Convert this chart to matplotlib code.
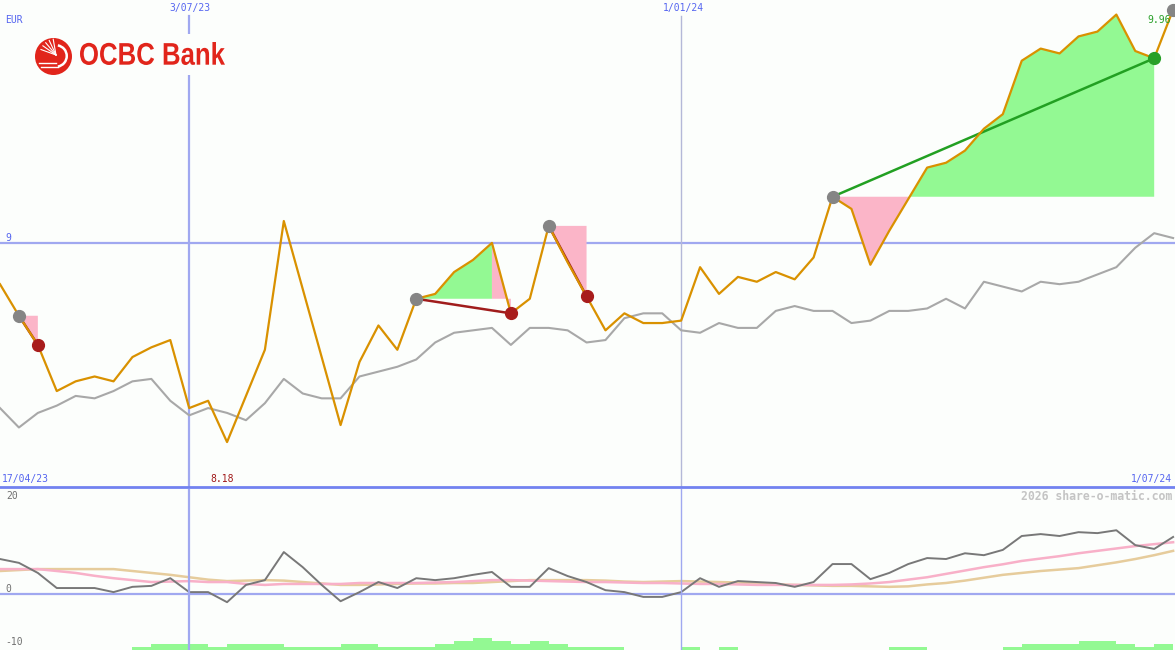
import numpy as np
import matplotlib.pyplot as plt
from matplotlib.patches import Circle, Rectangle, Wedge, PathPatch
from matplotlib.lines import Line2D
from matplotlib.textpath import TextPath
from matplotlib.font_manager import FontProperties
from matplotlib.transforms import Affine2D

# weekly closes in EUR, first week 24/04/23, last week 1/07/24
close = [8.83, 8.70, 8.58, 8.39, 8.43, 8.45, 8.43, 8.53, 8.57, 8.60,
         8.32, 8.35, 8.18, 8.37, 8.56, 9.09, 8.81, 8.53, 8.25, 8.51,
         8.66, 8.56, 8.77, 8.79, 8.88, 8.93, 9.00, 8.71, 8.77, 9.07,
         8.92, 8.78, 8.64, 8.71, 8.67, 8.67, 8.68, 8.90, 8.79, 8.86,
         8.84, 8.88, 8.85, 8.94, 9.19, 9.14, 8.91, 9.05, 9.18, 9.31,
         9.33, 9.38, 9.47, 9.53, 9.75, 9.80, 9.78, 9.85, 9.87, 9.94,
         9.79, 9.76, 9.96]
# grey line (average)
avg = [8.32, 8.24, 8.30, 8.33, 8.37, 8.36, 8.39, 8.43, 8.44, 8.35,
       8.29, 8.32, 8.30, 8.27, 8.34, 8.44, 8.38, 8.36, 8.36, 8.45,
       8.47, 8.49, 8.52, 8.59, 8.63, 8.64, 8.65, 8.58, 8.65, 8.65,
       8.64, 8.59, 8.60, 8.69, 8.71, 8.71, 8.64, 8.63, 8.67, 8.65,
       8.65, 8.72, 8.74, 8.72, 8.72, 8.67, 8.68, 8.72, 8.72, 8.73,
       8.77, 8.73, 8.84, 8.82, 8.80, 8.84, 8.83, 8.84, 8.87, 8.90,
       8.98, 9.04, 9.02]
# lower panel
osc = [7.3, 6.5, 4.4, 1.25, 1.25, 1.25, 0.4, 1.5, 1.7, 3.3,
       0.4, 0.4, -1.7, 1.9, 2.9, 8.75, 5.6, 1.9, -1.5, 0.4,
       2.5, 1.25, 3.3, 2.9, 3.3, 4.0, 4.6, 1.5, 1.5, 5.4,
       3.75, 2.5, 0.8, 0.4, -0.6, -0.6, 0.4, 3.3, 1.5, 2.7,
       2.5, 2.3, 1.5, 2.5, 6.25, 6.25, 3.1, 4.4, 6.25, 7.5,
       7.3, 8.5, 8.1, 9.2, 12.1, 12.5, 12.1, 12.9, 12.7, 13.3,
       10.2, 9.4, 11.9]
osc_fast = [5.2, 5.2, 5.2, 4.8, 4.4, 3.8, 3.3, 2.9, 2.5, 2.6,
            2.7, 2.5, 2.5, 2.1, 1.9, 2.1, 2.1, 2.1, 2.1, 2.3,
            2.3, 2.3, 2.3, 2.4, 2.5, 2.7, 2.9, 2.9, 2.8, 2.7,
            2.6, 2.5, 2.5, 2.4, 2.3, 2.3, 2.2, 2.1, 2.1, 2.0,
            1.9, 1.9, 1.9, 1.9, 1.9, 2.0, 2.2, 2.5, 3.0, 3.5,
            4.2, 4.9, 5.6, 6.2, 6.9, 7.4, 7.9, 8.5, 9.0, 9.5,
            10.0, 10.4, 10.8]
osc_slow = [4.8, 5.0, 5.2, 5.2, 5.2, 5.2, 5.2, 4.8, 4.4, 4.0,
            3.5, 3.0, 2.7, 2.8, 2.9, 2.8, 2.5, 2.2, 1.9, 1.9,
            2.0, 2.1, 2.2, 2.2, 2.3, 2.3, 2.5, 2.7, 2.9, 2.9,
            2.9, 2.9, 2.8, 2.6, 2.5, 2.6, 2.7, 2.6, 2.5, 2.4,
            2.2, 2.0, 1.9, 1.8, 1.7, 1.7, 1.6, 1.5, 1.6, 2.0,
            2.3, 2.8, 3.4, 4.0, 4.4, 4.8, 5.1, 5.4, 6.0, 6.6,
            7.3, 8.1, 9.0]
hist = [0, 0, 0, 0, 0, 0, 0, 1, 2, 2, 2, 1, 2, 2, 2, 1, 1, 1, 2, 2,
        1, 1, 1, 2, 3, 4, 3, 2, 3, 2, 1, 1, 1, 0, 0, 0, 1, 0, 1, 0,
        0, 0, 0, 0, 0, 0, 0, 1, 1, 0, 0, 0, 0, 1, 2, 2, 2, 3, 3, 2,
        1, 2, 0]
hist_unit = 0.625

# (buy week, sell week)
trades = [(1, 2), (22, 27), (29, 31), (44, 61)]
open_buy = 62
date_marks = [(10, "3/07/23"), (36, "1/01/24")]

x = np.arange(len(close))

BLUE = "#5565f0"
GRID = "#a0a8f0"
ORANGE = "#d99100"
GREEN_FILL = "#93f993"
PINK_FILL = "#fbb5c8"
BG = "#fcfefc"

fig = plt.figure(figsize=(11.75, 6.5), dpi=100, facecolor=BG)
H = 650.0
ax1 = fig.add_axes([0, 1 - 487 / H, 1, 487 / H])
ax2 = fig.add_axes([0, 0, 1, 161 / H])
for a in (ax1, ax2):
    a.set_facecolor(BG)
    a.set_xlim(0, 62.1)
    a.set_xticks([])
    a.set_yticks([])
    for s in a.spines.values():
        s.set_visible(False)

# ---- price panel
ax1.set_ylim(7.995, 10.0)
ax1.axhline(9, color=GRID, lw=1.6, zorder=1)
ax1.axvline(date_marks[0][0], ymax=1 - 16 / 487, color=GRID, lw=1.6, zorder=1)
ax1.axvline(date_marks[1][0], ymax=1 - 16 / 487, color="#b4b8d8", lw=1, zorder=1)

ax1.plot(x, avg, color="#a8a8a8", lw=1.5, zorder=3)

for b, s in trades:
    entry = close[b]
    # group consecutive weeks with the same colour into one polygon
    runs = []
    for i in range(b, s):
        up = close[i + 1] > entry
        if runs and runs[-1][0] == up:
            runs[-1][2] = i + 1
        else:
            runs.append([up, i, i + 1])
    for up, i0, i1 in runs:
        xs = [i0] + list(range(i0, i1 + 1)) + [i1]
        ys = [entry] + close[i0:i1 + 1] + [entry]
        ax1.fill(xs, ys, color=GREEN_FILL if up else PINK_FILL, lw=0, zorder=2)
    win = close[s] > entry
    ax1.plot([b, s], [entry, close[s]], color="#22a022" if win else "#a01c1c",
             lw=1.8, zorder=4)

ax1.plot(x, close, color=ORANGE, lw=1.6, zorder=5)

for b, s in trades:
    win = close[s] > close[b]
    ax1.plot(b, close[b], "o", ms=8.5, color="#858585", zorder=6)
    ax1.plot(s, close[s], "o", ms=8.5, color="#28a028" if win else "#a81c1c", zorder=6)
ax1.plot(open_buy, close[open_buy], "o", ms=8.5, color="#858585", zorder=6)

# ---- lower panel
ax2.set_ylim(-11.67, 21.9)
ax2.axhline(0, color=GRID, lw=1.6, zorder=1)
ax2.axvline(date_marks[0][0], color=GRID, lw=1.6, zorder=4)
ax2.axvline(date_marks[1][0], color=GRID, lw=1, zorder=4)
ax2.bar(x, np.array(hist) * hist_unit, width=1.0, align="edge", bottom=-11.67,
        color=GREEN_FILL, lw=0, zorder=2)
ax2.plot(x, osc_slow, color="#e6cc9c", lw=1.8, zorder=3)
ax2.plot(x, osc_fast, color="#f8b0c8", lw=1.8, zorder=3)
ax2.plot(x, osc, color="#787878", lw=1.4, zorder=3)

# ---- overlay for labels and logo (pixel coordinates)
ov = fig.add_axes([0, 0, 1, 1], zorder=10)
ov.set_xlim(0, 1175)
ov.set_ylim(650, 0)
ov.axis("off")
ov.patch.set_alpha(0)

ov.add_line(Line2D([0, 1175], [487, 487], color="#7282f0", lw=2))

mono = dict(family="DejaVu Sans Mono", fontsize=7)
ov.text(5, 20, "EUR", color=BLUE, va="center", ha="left", **mono)
ov.text(5, 238, "9", color=BLUE, va="center", ha="left", **mono)
ov.text(2, 479, "17/04/23", color=BLUE, va="center", ha="left", **mono)
ov.text(1172, 479, "1/07/24", color=BLUE, va="center", ha="right", **mono)
ov.text(222, 479, "8.18", color="#a01818", va="center", ha="center", **mono)
ov.text(1171, 20, "9.96", color="#28a028", va="center", ha="right", **mono)
ov.text(190, 8, date_marks[0][1], color=BLUE, va="center", ha="center", **mono)
ov.text(683, 8, date_marks[1][1], color=BLUE, va="center", ha="center", **mono)
ov.text(6, 496, "20", color="#707070", va="center", ha="left", **mono)
ov.text(5, 589, "0", color="#707070", va="center", ha="left", **mono)
ov.text(5, 642, "-10", color="#707070", va="center", ha="left", **mono)
ov.text(1172, 496, "2026 share-o-matic.com", color="#c4c4c4", va="center",
        ha="right", family="DejaVu Sans Mono", fontsize=8.3, fontweight="bold")

# logo
RED = "#e1251b"
ov.add_patch(Rectangle((30, 34), 200, 41, color=BG, lw=0))
ov.add_patch(Circle((53.5, 56.5), 18.5, color=RED, lw=0))
ov.add_patch(Wedge((56, 56), 12, -80, 80, width=2.5, color="white", lw=0))
for ang in [200, 215, 230, 245, 260]:
    t = np.radians(ang)
    ov.add_line(Line2D([56, 56 + 16 * np.cos(t)], [55, 55 + 16 * np.sin(t)],
                       color="white", lw=0.8))
ov.add_line(Line2D([39, 56], [63, 63], color="white", lw=1.0))
ov.add_line(Line2D([41, 58], [67, 67], color="white", lw=1.0))

tp = TextPath((0, 0), "OCBC Bank", size=10,
              prop=FontProperties(family="Liberation Sans", weight="bold"))
ext = tp.get_extents()
sx = (225 - 80) / ext.width
sy = (65 - 42) / ext.height
tr = Affine2D().translate(-ext.x0, -ext.y0).scale(sx, -sy).translate(80, 65)
ov.add_patch(PathPatch(tr.transform_path(tp), color=RED, lw=0))

fig.savefig("out.png", dpi=100, facecolor=BG)
